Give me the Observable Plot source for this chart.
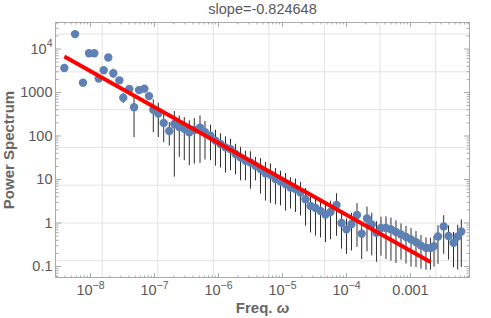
<!DOCTYPE html>
<html><head><meta charset="utf-8">
<script src="https://cdn.jsdelivr.net/npm/d3@7"></script>
<script src="https://cdn.jsdelivr.net/npm/@observablehq/plot@0.6"></script>
<style>
html,body{margin:0;padding:0;background:#fff;}
#chart svg{display:block;}
</style></head><body><div id="chart"></div>
<script>
const title = "slope=-0.824648";
const xAxisLabel = "Freq. ω";
const yAxisLabel = "Power Spectrum";

const freq = [
  3.90e-9, 5.73e-9, 7.63e-9, 9.48e-9, 1.146e-8, 1.343e-8, 1.607e-8, 1.897e-8, 2.27e-8, 2.82e-8,
  3.25e-8, 4.04e-8, 4.79e-8, 5.73e-8, 6.93e-8, 8.20e-8, 9.57e-8, 1.146e-7, 1.393e-7, 1.702e-7,
  2.04e-7, 2.44e-7, 2.92e-7, 3.50e-7, 4.19e-7, 5.14e-7, 6.15e-7, 7.50e-7, 8.97e-7, 1.074e-6,
  1.285e-6, 1.54e-6, 1.845e-6, 2.21e-6, 2.64e-6, 3.16e-6, 3.78e-6, 4.53e-6, 5.42e-6, 6.49e-6,
  7.78e-6, 9.31e-6, 1.114e-5, 1.334e-5, 1.596e-5, 1.91e-5, 2.29e-5, 2.74e-5, 3.28e-5, 3.93e-5,
  4.70e-5, 5.62e-5, 6.98e-5, 8.36e-5, 1.0e-4, 1.197e-4, 1.459e-4, 1.728e-4, 2.09e-4, 2.48e-4,
  2.94e-4, 3.46e-4, 4.14e-4, 4.95e-4, 5.93e-4, 7.11e-4, 8.51e-4, 1.019e-3, 1.219e-3, 1.459e-3,
  1.746e-3, 2.05e-3, 2.33e-3, 2.69e-3, 3.30e-3, 3.93e-3, 4.70e-3, 5.46e-3, 6.22e-3
];
const power = [
  3660, 21970, 1683, 8000, 8000, 2084, 3240, 6364, 2761, 1903,
  758, 1199, 460, 1136, 1224, 826, 401, 329, 199, 130,
  188, 161, 146, 122, 137, 156, 122, 102, 78.3, 65.7,
  54.8, 49.8, 38.6, 32.2, 27.0, 24.7, 20.7, 17.4, 13.9, 12.8,
  10.2, 8.99, 7.83, 6.53, 6.00, 5.01, 3.53, 2.47, 2.22, 1.89,
  1.57, 1.79, 2.60, 1.00, 0.715, 0.948, 1.53, 0.566, 1.27, 0.923,
  0.597, 0.767, 0.767, 0.715, 0.620, 0.548, 0.475, 0.420, 0.364, 0.302,
  0.269, 0.265, 0.294, 0.488, 0.830, 0.501, 0.351, 0.488, 0.636
];
// error bar half-width, relative to the value
const relErr = [
  0.1, 0.1, 0.1, 0.1, 0.1, 0.1, 0.1, 0.1, 0.245, 0.1,
  0.26, 0.1, 0.80, 0.1, 0.1, 0.2, 0.70, 0.72, 0.645, 0.55,
  0.94, 0.80, 0.815, 0.83, 0.835, 0.85, 0.77, 0.735, 0.74, 0.72,
  0.745, 0.68, 0.67, 0.71, 0.655, 0.757, 0.55, 0.735, 0.77, 0.78,
  0.745, 0.725, 0.76, 0.68, 0.71, 0.71, 0.76, 0.76, 0.775, 0.76,
  0.775, 0.77, 0.81, 0.75, 0.735, 0.76, 0.82, 0.745, 0.83, 0.81,
  0.79, 0.775, 0.81, 0.815, 0.81, 0.745, 0.76, 0.77, 0.74, 0.71,
  0.695, 0.69, 0.67, 0.77, 0.77, 0.72, 0.735, 0.83, 0.85
];
const fitFreq = [3.9e-9, 2.05e-3];
const fitPower = [6730, 0.1268];

const xTickValues = [1e-8, 1e-7, 1e-6, 1e-5, 1e-4, 1e-3];
const xTickLabels = ["10^-8", "10^-7", "10^-6", "10^-5", "10^-4", "0.001"];
const yTickValues = [0.1, 1, 10, 100, 1000, 1e4];
const yTickLabels = ["0.1", "1", "10", "100", "1000", "10^4"];
const gridLnX = [-18, -16, -14, -12, -10, -8, -6];
const gridLnY = [-2, 0, 2, 4, 6, 8, 10];

const points = freq.map((f, i) => ({f, p: power[i], lo: power[i] * (1 - relErr[i]), hi: power[i] * (1 + relErr[i])}));
const fit = fitFreq.map((f, i) => ({f, p: fitPower[i]}));
const xDomain = [10 ** -8.547, 10 ** -2.078];
const yDomain = [10 ** -1.253, 10 ** 4.609];
function minors(lo, hi, dom) {
  const out = [];
  for (let e = lo; e <= hi; e++) for (let k = 2; k <= 9; k++) { const v = k * 10 ** e; if (v >= dom[0] && v <= dom[1]) out.push(v); }
  return out;
}
const xMinor = minors(-9, -3, xDomain);
const yMinor = minors(-2, 4, yDomain);

const frameColor = "#a9a9a9";
const labelColor = "#585858";
const font = "'Liberation Sans', Arial, sans-serif";
const tk = (fn, vals, anchor, frameAnchor, size) =>
  fn(vals, {anchor, frameAnchor, tickSize: size, fill: "none", stroke: frameColor, label: null});

const chart = Plot.plot({
  width: 491, height: 318,
  marginLeft: 55, marginRight: 22, marginTop: 22, marginBottom: 41,
  style: {fontFamily: font, background: "#fff", color: labelColor},
  x: {type: "log", domain: xDomain, axis: null},
  y: {type: "log", domain: yDomain, axis: null},
  marks: [
    Plot.ruleX(gridLnX.map(v => Math.exp(v)), {stroke: "#e3e3e3"}),
    Plot.ruleY(gridLnY.map(v => Math.exp(v)), {stroke: "#e3e3e3"}),
    Plot.ruleX(points, {x: "f", y1: "lo", y2: "hi", stroke: "#2e2e2e", strokeWidth: 1}),
    Plot.dot(points, {x: "f", y: "p", r: 4.2, fill: "#5E81B5"}),
    Plot.line(fit, {x: "f", y: "p", stroke: "#ff0000", strokeWidth: 4, strokeLinecap: "butt"}),
    Plot.frame({stroke: frameColor}),
    tk(Plot.axisX, xTickValues, "top", "bottom", 5),
    tk(Plot.axisX, xMinor, "top", "bottom", 2.5),
    tk(Plot.axisX, xTickValues, "bottom", "top", 5),
    tk(Plot.axisX, xMinor, "bottom", "top", 2.5),
    tk(Plot.axisY, yTickValues, "right", "left", 5),
    tk(Plot.axisY, yMinor, "right", "left", 2.5),
    tk(Plot.axisY, yTickValues, "left", "right", 5),
    tk(Plot.axisY, yMinor, "left", "right", 2.5),
    Plot.axisX(xTickValues, {anchor: "bottom", tickSize: 0, tickPadding: 7.5, fontSize: 14.5, fill: labelColor, label: null,
      tickFormat: d => xTickLabels[xTickValues.indexOf(d)]}),
    Plot.axisY(yTickValues, {anchor: "left", tickSize: 0, tickPadding: 3, fontSize: 14.5, fill: labelColor, label: null,
      tickFormat: d => yTickLabels[yTickValues.indexOf(d)]}),
    Plot.text([title], {frameAnchor: "top", textAnchor: "middle", lineAnchor: "middle", dy: -12.9, fontSize: 14.5, fill: labelColor}),
    Plot.text([xAxisLabel], {frameAnchor: "bottom", textAnchor: "middle", lineAnchor: "middle", dy: 30.2, fontSize: 15, fontWeight: "bold", fill: "#666"}),
    Plot.text([yAxisLabel], {frameAnchor: "left", textAnchor: "middle", lineAnchor: "middle", dx: -46.5, rotate: -90, fontSize: 15, fontWeight: "bold", fill: "#666"})
  ]
});

const ns = "http://www.w3.org/2000/svg";
chart.querySelectorAll("text").forEach(t => {
  const s = t.textContent;
  if (s.includes("^")) {
    const [b, e] = s.split("^");
    t.textContent = "";
    const tb = document.createElementNS(ns, "tspan"); tb.textContent = b; t.appendChild(tb);
    const te = document.createElementNS(ns, "tspan");
    te.textContent = e.replace("-", "\u2212");
    te.setAttribute("font-size", "10.5");
    te.setAttribute("dy", "-6.5");
    t.appendChild(te);
  } else if (s === xAxisLabel) {
    t.textContent = "";
    t.setAttribute("style", "white-space:pre");
    const tb = document.createElementNS(ns, "tspan"); tb.textContent = s.slice(0, -1); t.appendChild(tb);
    const ti = document.createElementNS(ns, "tspan"); ti.textContent = s.slice(-1); ti.setAttribute("font-style", "italic"); t.appendChild(ti);
  }
});
document.getElementById("chart").appendChild(chart);
</script></body></html>
